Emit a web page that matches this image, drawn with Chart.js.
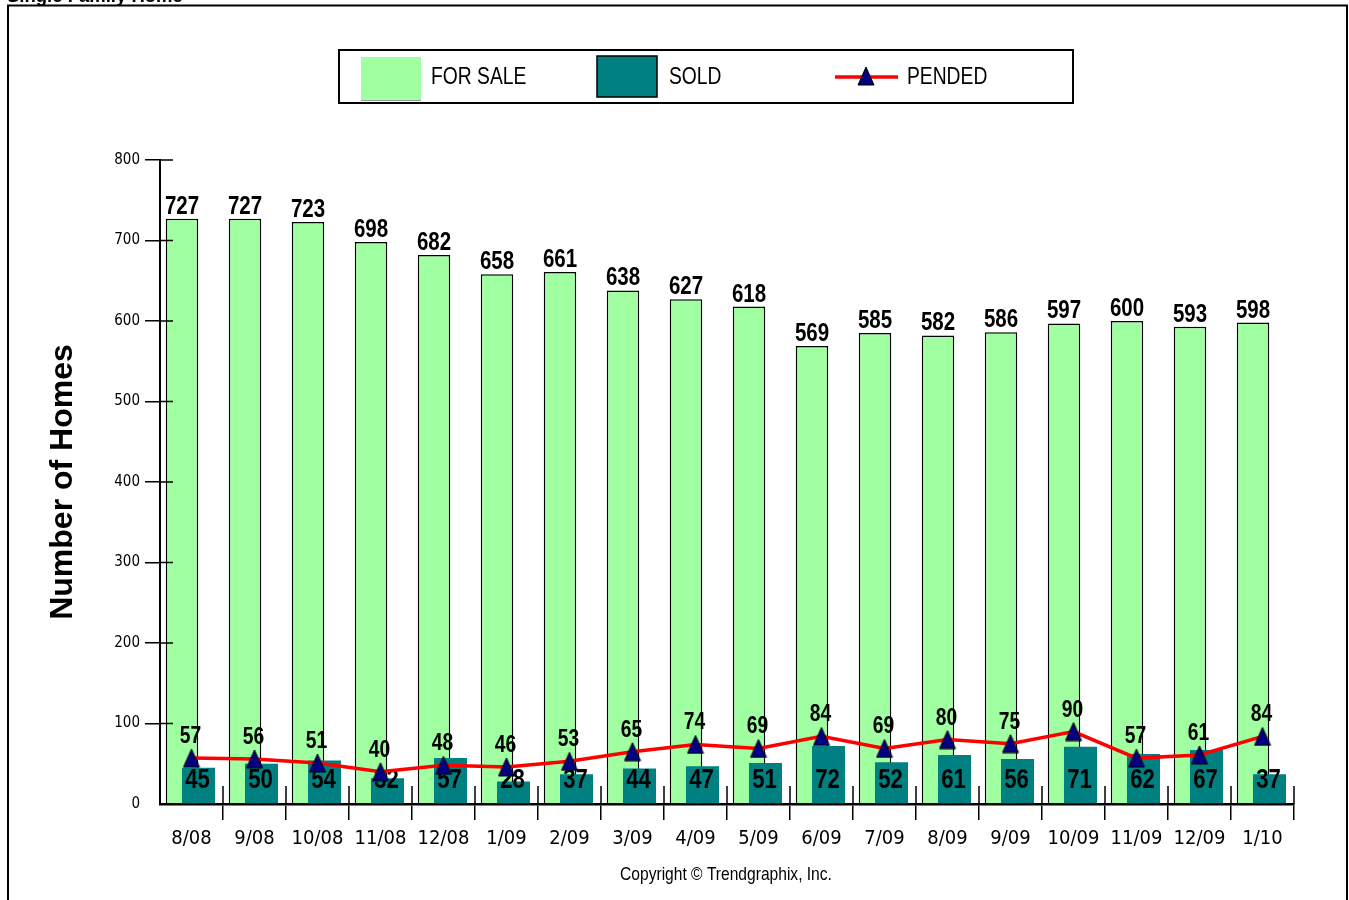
<!DOCTYPE html>
<html>
<head>
<meta charset="utf-8">
<title>Single Family Home</title>
<script src="https://cdn.jsdelivr.net/npm/chart.js@4.4.1/dist/chart.umd.min.js"></script>
<style>
  html, body { margin: 0; padding: 0; background: #fff; overflow: hidden; }
  #wrap { position: absolute; left: 0; top: 0; width: 1349px; height: 900px; }
</style>
</head>
<body>
<div id="wrap"><canvas id="grafico"></canvas></div>
<script>
// data
const labels = ['8/08', '9/08', '10/08', '11/08', '12/08', '1/09', '2/09', '3/09', '4/09',
                '5/09', '6/09', '7/09', '8/09', '9/09', '10/09', '11/09', '12/09', '1/10'];
const forSale = [727, 727, 723, 698, 682, 658, 661, 638, 627, 618, 569, 585, 582, 586, 597, 600, 593, 598];
const sold    = [45, 50, 54, 32, 57, 28, 37, 44, 47, 51, 72, 52, 61, 56, 71, 62, 67, 37];
const pended  = [57, 56, 51, 40, 48, 46, 53, 65, 74, 69, 84, 69, 80, 75, 90, 57, 61, 84];
const yTicks  = [0, 100, 200, 300, 400, 500, 600, 700, 800];

const cond = '"DejaVu Sans Condensed", "Liberation Sans Narrow", sans-serif';
const sans = '"Liberation Sans", Arial, sans-serif';

const GREEN = '#a0ffa0';
const TEAL = '#008080';
const NAVY = '#000080';
const RED = '#ff0000';

// navy triangle marker used for the PENDED points
function makeTriangle() {
    const c = document.createElement('canvas');
    c.width = 18; c.height = 20;
    const g = c.getContext('2d');
    g.beginPath();
    g.moveTo(9, 1); g.lineTo(17, 19); g.lineTo(1, 19); g.closePath();
    g.fillStyle = NAVY; g.fill();
    g.strokeStyle = '#000'; g.lineWidth = 1; g.stroke();
    return c;
}
const tri = makeTriangle();

// arial squeezed to look like arial narrow
function narrowText(ctx, text, x, y, size, bold) {
    ctx.save();
    ctx.font = (bold ? 'bold ' : '') + size + 'px ' + sans;
    ctx.translate(x, y);
    ctx.scale(0.82, 1);
    ctx.fillText(text, 0, 0);
    ctx.restore();
}

function tagIndex(chart, tag) {
    return chart.data.datasets.findIndex(d => d.tag === tag);
}

const extras = {
    id: 'extras',
    // sold bars have to sit on top of the for-sale bars but to their right,
    // so they are drawn right after the for-sale dataset
    beforeDatasetDraw(chart, args) {
        if (chart.data.datasets[args.index].tag === 'sold') return false;
    },
    afterDatasetDraw(chart, args) {
        const ctx = chart.ctx;
        const tag = chart.data.datasets[args.index].tag;
        const y0 = chart.scales.y.getPixelForValue(0);
        ctx.save();
        ctx.fillStyle = '#000';
        ctx.textAlign = 'center';
        ctx.textBaseline = 'alphabetic';
        if (tag === 'forSale') {
            args.meta.data.forEach((el, i) => narrowText(ctx, String(forSale[i]), el.x, el.y - 5, 25, true));
            const soldMeta = chart.getDatasetMeta(tagIndex(chart, 'sold'));
            soldMeta.controller.draw();
            ctx.fillStyle = '#000';
            soldMeta.data.forEach((el, i) => narrowText(ctx, String(sold[i]), el.x - 1, y0 - 16, 27, true));
        } else if (tag === 'pended') {
            args.meta.data.forEach((el, i) => narrowText(ctx, String(pended[i]), el.x - 1, el.y - 15, 23.5, true));
        }
        ctx.restore();
    },
    afterDatasetsDraw(chart) {
        const {ctx, chartArea, scales} = chart;
        ctx.save();
        ctx.strokeStyle = '#000';
        ctx.lineWidth = 1.5;
        ctx.beginPath();
        yTicks.forEach(v => {
            if (v === 0) return;
            const py = scales.y.getPixelForValue(v);
            ctx.moveTo(chartArea.left, py);
            ctx.lineTo(chartArea.left + 13, py);
        });
        for (let i = 1; i <= labels.length; i++) {
            const px = scales.x.getPixelForValue(i - 0.5);
            ctx.moveTo(px, chartArea.bottom);
            ctx.lineTo(px, chartArea.bottom - 18);
        }
        ctx.stroke();
        ctx.restore();
    },
    afterDraw(chart) {
        const {ctx, chartArea} = chart;
        const ds = chart.data.datasets;
        const dFor = ds[tagIndex(chart, 'forSale')];
        const dSold = ds[tagIndex(chart, 'sold')];
        const dPend = ds[tagIndex(chart, 'pended')];
        ctx.save();
        // page title, mostly cut off at the top
        ctx.fillStyle = '#000';
        ctx.font = 'bold 18.5px ' + sans;
        ctx.textAlign = 'left';
        ctx.textBaseline = 'alphabetic';
        ctx.fillText('Single Family Home', 7, 2);

        // outer frame
        ctx.strokeStyle = '#000';
        ctx.lineWidth = 2;
        ctx.strokeRect(8, 5.5, 1339, 1000);

        // legend
        ctx.strokeRect(339, 50, 734, 53);
        ctx.fillStyle = dFor.backgroundColor;
        ctx.fillRect(361, 57, 60, 43);
        ctx.strokeStyle = '#9a9a9a';
        ctx.lineWidth = 1;
        ctx.beginPath();
        ctx.moveTo(361, 100.5); ctx.lineTo(421, 100.5);
        ctx.stroke();

        ctx.fillStyle = dSold.backgroundColor;
        ctx.fillRect(597, 56, 60, 41);
        ctx.strokeStyle = '#000';
        ctx.lineWidth = 1.5;
        ctx.strokeRect(597, 56, 60, 41);

        ctx.strokeStyle = dPend.borderColor;
        ctx.lineWidth = 3.5;
        ctx.beginPath();
        ctx.moveTo(835, 77); ctx.lineTo(898, 77);
        ctx.stroke();
        ctx.drawImage(tri, 866 - 9, 77 - 11);

        ctx.fillStyle = '#000';
        ctx.textBaseline = 'middle';
        narrowText(ctx, dFor.label, 431, 78, 23.5, false);
        narrowText(ctx, dSold.label, 669, 78, 23.5, false);
        narrowText(ctx, dPend.label, 907, 78, 23.5, false);

        // copyright
        ctx.textAlign = 'center';
        ctx.textBaseline = 'alphabetic';
        narrowText(ctx, 'Copyright \u00A9 Trendgraphix, Inc.', (chartArea.left + chartArea.right) / 2 - 1, 880, 19, false);
        ctx.restore();
    }
};

document.addEventListener('DOMContentLoaded', function() {
    const ctx = document.getElementById('grafico').getContext('2d');
    new Chart(ctx, {
        type: 'bar',
        data: {
            labels: labels,
            datasets: [
                {
                    type: 'line',
                    tag: 'pended',
                    label: 'PENDED',
                    data: pended,
                    order: 0,
                    borderColor: RED,
                    borderWidth: 3.5,
                    tension: 0,
                    pointStyle: tri,
                    pointRadius: 9,
                    pointHoverRadius: 9,
                    fill: false,
                    clip: false
                },
                {
                    tag: 'forSale',
                    label: 'FOR SALE',
                    data: forSale,
                    order: 1,
                    backgroundColor: GREEN,
                    borderColor: '#000',
                    borderWidth: 1.5,
                    categoryPercentage: 0.603,
                    barPercentage: 1.71
                },
                {
                    tag: 'sold',
                    label: 'SOLD',
                    data: sold,
                    order: 2,
                    backgroundColor: TEAL,
                    borderWidth: 0,
                    categoryPercentage: 0.444,
                    barPercentage: 2.36
                }
            ]
        },
        options: {
            responsive: true,
            maintainAspectRatio: false,
            animation: false,
            layout: { padding: { top: 160, right: 55, bottom: 0, left: 0 } },
            plugins: {
                legend: { display: false },
                tooltip: { enabled: false }
            },
            scales: {
                x: {
                    type: 'category',
                    offset: true,
                    grid: {
                        offset: true,
                        drawOnChartArea: false,
                        tickLength: 16,
                        lineWidth: 1.5,
                        color: c => c.index === 0 ? 'rgba(0,0,0,0)' : '#000'
                    },
                    border: { color: '#000', width: 2.5 },
                    ticks: {
                        color: '#000',
                        font: { family: cond, size: 20 },
                        padding: 7,
                        maxRotation: 0,
                        autoSkip: false
                    },
                    afterFit: s => { s.height = 96; }
                },
                y: {
                    min: 0,
                    max: 800,
                    afterBuildTicks: s => { s.ticks = yTicks.map(v => ({ value: v })); },
                    grid: {
                        drawOnChartArea: false,
                        tickLength: 15,
                        lineWidth: 1.5,
                        color: c => (c.tick && c.tick.value === 0) ? 'rgba(0,0,0,0)' : '#000'
                    },
                    border: { color: '#000', width: 2 },
                    ticks: { color: '#000', font: { family: cond, size: 15 }, padding: 5 },
                    title: {
                        display: true,
                        text: 'Number of Homes',
                        color: '#000',
                        font: { family: sans, size: 32, weight: 'bold' },
                        padding: { top: 44, bottom: 0 }
                    },
                    afterFit: s => { s.width = 160; }
                }
            }
        },
        plugins: [extras]
    });
});
</script>
</body>
</html>
